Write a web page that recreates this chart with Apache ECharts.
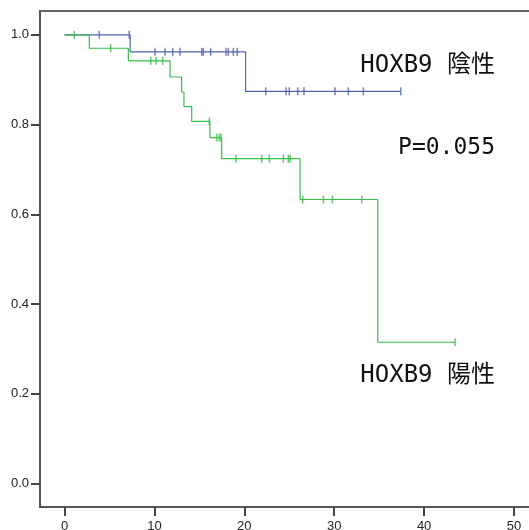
<!DOCTYPE html>
<html>
<head>
<meta charset="utf-8">
<script src="https://cdn.jsdelivr.net/npm/echarts@6/dist/echarts.min.js"></script>
<style>html,body{margin:0;padding:0;background:#fff;}#c{width:529px;height:530px;}</style>
</head>
<body>
<div id="c"></div>
<script>
// HOXB9 negative (陰性): survival step changes
const negTime = [0, 7.3, 20.15, 37.4];
const negSurv = [1.0, 0.962, 0.874, 0.874];
const negCensor = [3.87, 7.2, 10.07, 11.18, 12.04, 12.85, 15.26, 15.44, 16.26, 17.96, 18.22, 18.78, 19.22, 22.38, 24.64, 25.0, 25.94, 26.64, 30.09, 31.57, 33.24, 37.4];

// HOXB9 positive (陽性)
const posTime = [0, 2.76, 7.1, 11.74, 13.03, 13.29, 14.15, 16.18, 17.48, 26.2, 34.84, 43.44];
const posSurv = [1.0, 0.970, 0.942, 0.906, 0.872, 0.840, 0.807, 0.771, 0.724, 0.633, 0.315, 0.315];
const posCensor = [1.09, 5.14, 9.59, 10.18, 10.92, 16.1, 16.93, 17.2, 17.4, 19.08, 21.94, 22.79, 24.34, 24.9, 25.1, 26.5, 28.8, 29.8, 33.06, 43.44];

const xTicks = [0, 10, 20, 30, 40, 50];
const yTicks = [0, 0.2, 0.4, 0.6, 0.8, 1.0];

const labelNeg = 'HOXB9 陰性';
const labelPos = 'HOXB9 陽性';
const pText = 'P=0.055';

const blue = '#4f63b3';
const green = '#34c04a';

function survAt(times, surv, t) {
  let s = surv[0];
  for (let i = 0; i < times.length; i++) { if (times[i] <= t) s = surv[i]; }
  return s;
}
function pairs(times, surv) { return times.map((t, i) => [t, surv[i]]); }
function censorPts(c, times, surv) { return c.map(t => [t, survAt(times, surv, t)]); }

const chart = echarts.init(document.getElementById('c'));
chart.setOption({
  animation: false,
  backgroundColor: '#fff',
  grid: { left: 40, top: 11, width: 501, height: 496, outerBoundsMode: 'none', containLabel: false, show: true, borderColor: '#666', borderWidth: 2, backgroundColor: 'transparent' },
  xAxis: {
    type: 'value', min: -2.725, max: 53,
    axisLine: { show: true, onZero: false, lineStyle: { color: '#555', width: 2 } },
    axisTick: { show: true, customValues: xTicks, length: 9, lineStyle: { color: '#444', width: 2 } },
    axisLabel: { customValues: xTicks, fontSize: 13, color: '#222', margin: 13, fontFamily: 'Liberation Sans' },
    splitLine: { show: false }
  },
  yAxis: {
    type: 'value', min: -0.052, max: 1.053,
    axisLine: { show: true, onZero: false, lineStyle: { color: '#555', width: 2 } },
    axisTick: { show: true, customValues: yTicks, length: 9, lineStyle: { color: '#444', width: 2 } },
    axisLabel: { customValues: yTicks, fontSize: 13, color: '#222', margin: 11, fontFamily: 'Liberation Sans', formatter: v => v.toFixed(1) },
    splitLine: { show: false }
  },
  series: [
    { type: 'line', step: 'end', data: pairs(negTime, negSurv), showSymbol: false, lineStyle: { color: blue, width: 1.2 }, z: 2 },
    { type: 'scatter', data: censorPts(negCensor, negTime, negSurv), symbol: 'rect', symbolSize: [1.5, 8], itemStyle: { color: blue }, z: 3 },
    { type: 'line', step: 'end', data: pairs(posTime, posSurv), showSymbol: false, lineStyle: { color: green, width: 1.2 }, z: 4 },
    { type: 'scatter', data: censorPts(posCensor, posTime, posSurv), symbol: 'rect', symbolSize: [1.5, 8], itemStyle: { color: green }, z: 5 }
  ],
  graphic: [
    { type: 'text', x: 495, y: 66, style: { text: labelNeg, font: '24px "DejaVu Sans Mono", "Noto Sans CJK JP"', fill: '#111', textAlign: 'right', textVerticalAlign: 'middle' } },
    { type: 'text', x: 495, y: 148, style: { text: pText, font: '23px "DejaVu Sans Mono"', fill: '#111', textAlign: 'right', textVerticalAlign: 'middle' } },
    { type: 'text', x: 495, y: 376, style: { text: labelPos, font: '24px "DejaVu Sans Mono", "Noto Sans CJK JP"', fill: '#111', textAlign: 'right', textVerticalAlign: 'middle' } }
  ]
});
</script>
</body>
</html>
